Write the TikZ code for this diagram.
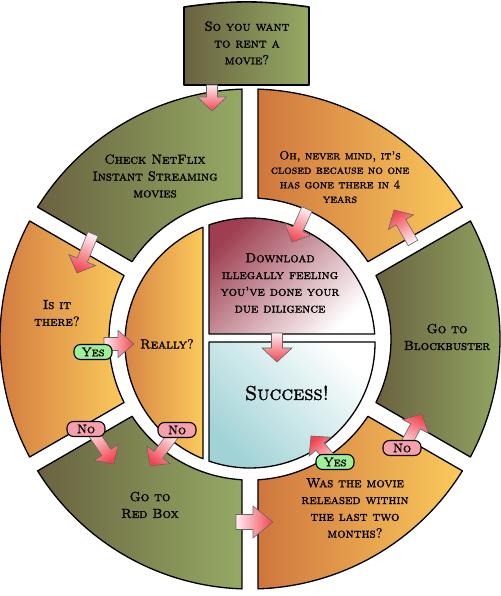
\documentclass[tikz,border=0pt]{standalone}
\usepackage{fontspec}
\newfontfamily\comicfont{lmromancaps10-regular}[Extension=.otf, FakeBold=1.6]
\usetikzlibrary{calc}
\definecolor{grL}{RGB}{106,98,64}
\definecolor{grR}{RGB}{148,170,100}
\definecolor{orL}{RGB}{207,118,62}
\definecolor{orR}{RGB}{251,202,92}
\definecolor{dlC}{RGB}{158,62,80}
\definecolor{scC}{RGB}{160,210,214}
\definecolor{yesC}{RGB}{158,240,150}
\definecolor{noC}{RGB}{245,160,172}
\definecolor{arTip}{RGB}{240,70,82}
\definecolor{arTail}{RGB}{255,236,240}
\tikzset{
  seg/.style={draw=black, line width=1.3pt, line join=round},
  greenseg/.style={seg, left color=grL, right color=grR},
  orangeseg/.style={seg, left color=orL, right color=orR},
  dlseg/.style={seg, top color=dlC, bottom color=white, shading angle=45},
  scseg/.style={seg, top color=scC, bottom color=white, shading angle=135},
  lbl/.style={font=\comicfont\fontsize{13.2}{16.8}\selectfont, align=center, text=black, inner sep=0pt},
  tag/.style={draw=black, line width=1.1pt, rounded corners=6.5pt, minimum width=38pt, minimum height=15pt, inner sep=1pt, font=\comicfont\fontsize{12.5}{12.5}\selectfont},
  yestag/.style={tag, fill=yesC},
  notag/.style={tag, fill=noC},
  barrow/.style={draw=black!60, line width=0.6pt, line join=miter},
}
\def\Ro{250pt}\def\Ri{141pt}\def\dO{1.83}\def\dI{3.25}
\newcommand\ringseg[3]{%
  \path[#1] ($(OC)+({#2+\dO}:\Ro)$) arc[start angle={#2+\dO}, end angle={#3-\dO}, radius=\Ro]
    -- ($(OC)+({#3-\dI}:\Ri)$) arc[start angle={#3-\dI}, end angle={#2+\dI}, radius=\Ri] -- cycle;}
% #1 tail, #2 tip, #3 angle, #4 half shaft, #5 half head, #6 head length
\newcommand\blockarr[6]{%
  \coordinate (hb) at ($(#2)!#6!(#1)$);
  \path[barrow, top color=arTip, bottom color=arTail, shading angle={#3-90}]
    ($(#1)!#4!90:(#2)$) -- ($(hb)!#4!90:(#2)$) -- ($(hb)!#5!90:(#2)$) -- (#2)
    -- ($(hb)!#5!-90:(#2)$) -- ($(hb)!#4!-90:(#2)$) -- ($(#1)!#4!-90:(#2)$) -- cycle;}
\begin{document}
\begin{tikzpicture}[x=1pt,y=1pt]
\useasboundingbox (0,0) rectangle (500,596);
\coordinate (OC) at (250,257);
\coordinate (IC) at (250,253);
% outer ring
\ringseg{greenseg}{90}{150}
\ringseg{orangeseg}{150}{210}
\ringseg{greenseg}{210}{270}
\ringseg{orangeseg}{270}{330}
\ringseg{greenseg}{-30}{30}
\ringseg{orangeseg}{30}{90}
% inner circle
\path[orangeseg] ($(IC)+(112.08:125pt)$) arc[start angle=112.08, end angle=247.92, radius=125pt] -- cycle;
\path[dlseg] ($(IC)+(-41pt,118.08pt)$) arc[start angle=109.15, end angle=4.13, radius=125pt] -- ($(IC)+(-41pt,9pt)$) -- cycle;
\path[scseg] ($(IC)+(-41pt,1pt)$) -- ($(IC)+(124.996pt,1pt)$) arc[start angle=0.46, end angle=-109.15, radius=125pt] -- cycle;
% top box
\path[greenseg, line width=1.6pt] (184,511) -- (184,589) to[bend left=8] (309,589) -- (309,511) -- cycle;
% texts
\node[lbl] (top) at (247,553) {So you want\\to rent a\\movie?};
\node[lbl] (netflix) at (155,420) {Check NetFlix\\Instant Streaming\\movies};
\node[lbl, font=\comicfont\fontsize{12}{14.5}\selectfont] (oh) at (340,419) {Oh, never mind, it’s\\closed because no one\\has gone there in 4\\years};
\node[lbl] (isit) at (57,283) {Is it\\there?};
\node[lbl] (really) at (167,252) {Really?};
\node[lbl] (download) at (280,313) {Download\\illegally feeling\\you’ve done your\\due diligence};
\node[lbl, font=\comicfont\fontsize{20}{20}\selectfont] (success) at (287,203) {Success!};
\node[lbl] (block) at (447,259) {Go to\\Blockbuster};
\node[lbl] (redbox) at (150,91) {Go to\\Red Box};
\node[lbl] (was) at (355,88) {Was the movie\\released within\\the last two\\months?};
% arrow end points
\coordinate (a1t) at (212,511); \coordinate (a1h) at (212,485);
\coordinate (a2t) at (93,362);  \coordinate (a2h) at (77,323);
\coordinate (a3t) at (104,252); \coordinate (a3h) at (134,252);
\coordinate (a4t) at (90,168);  \coordinate (a4h) at (114,132);
\coordinate (a5t) at (174,162); \coordinate (a5h) at (150,130);
\coordinate (a6t) at (236,74);  \coordinate (a6h) at (273,74);
\coordinate (a7t) at (334,133); \coordinate (a7h) at (311,160);
\coordinate (a8t) at (404,148); \coordinate (a8h) at (422,182);
\coordinate (a9t) at (413,353); \coordinate (a9h) at (394,386);
\coordinate (a10t) at (307,387); \coordinate (a10h) at (292,354);
\coordinate (a11t) at (277,263); \coordinate (a11h) at (277,234);
\blockarr{a1t}{a1h}{-90}{5.5pt}{14.5pt}{14pt}
\blockarr{a2t}{a2h}{-112}{5.5pt}{14.5pt}{14pt}
\blockarr{a3t}{a3h}{0}{6.5pt}{13.5pt}{16pt}
\blockarr{a4t}{a4h}{-56}{5.5pt}{14.5pt}{14pt}
\blockarr{a5t}{a5h}{-127}{5.5pt}{14.5pt}{14pt}
\blockarr{a6t}{a6h}{0}{7.5pt}{16pt}{20pt}
\blockarr{a7t}{a7h}{130}{5.5pt}{14.5pt}{14pt}
\blockarr{a8t}{a8h}{62}{5.5pt}{14.5pt}{14pt}
\blockarr{a9t}{a9h}{120}{5.5pt}{14.5pt}{14pt}
\blockarr{a10t}{a10h}{-115}{5.5pt}{14.5pt}{14pt}
\blockarr{a11t}{a11h}{-90}{5.5pt}{15pt}{14pt}
% tags
\node[yestag] (yes1) at (93,244) {Yes};
\node[notag] (no1) at (86,167) {No};
\node[notag] (no2) at (177,166) {No};
\node[yestag] (yes2) at (335,134) {Yes};
\node[notag] (no3) at (402,148) {No};
\end{tikzpicture}
\end{document}
